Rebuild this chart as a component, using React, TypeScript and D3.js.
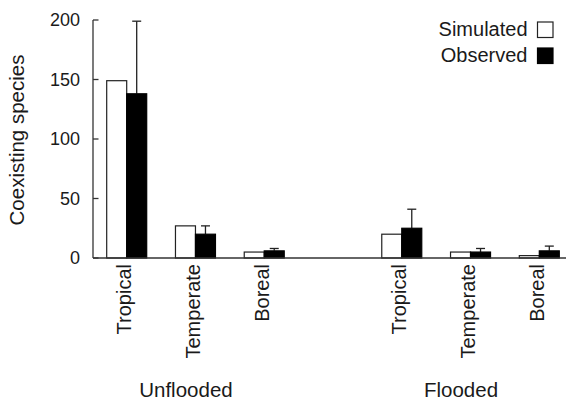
import React from "react";
import * as d3 from "d3";

const categories = ["Tropical", "Temperate", "Boreal"];
const conditions = ["Unflooded", "Flooded"];
const simulated = [149, 27, 5, 20, 5, 2];
const observed = [138, 20, 6, 25, 5, 6];
const observedErr = [61, 7, 2, 16, 3, 4];
const yTicks = [0, 50, 100, 150, 200];
const seriesNames = ["Simulated", "Observed"];

const W = 569;
const H = 401;
const FONT = "'Liberation Sans', Arial, Helvetica, sans-serif";
const TXT = "#1a1a1a";
const AX = "#333";

export default function App() {
  // slots: 3 unflooded, one empty gap, 3 flooded
  const slots = ["U0", "U1", "U2", "gap", "F0", "F1", "F2"];
  const x = d3.scalePoint<string>().domain(slots).range([126.7, 539.3]).padding(0);
  const y = d3.scaleLinear().domain([0, 200]).range([258, 20]);
  const barW = 20;
  const axisX = 93;

  const rows = conditions.flatMap((c, ci) =>
    categories.map((cat, k) => {
      const i = ci * 3 + k;
      const slot = (ci === 0 ? "U" : "F") + k;
      return { cond: c, cat, slot, sim: simulated[i], obs: observed[i], err: observedErr[i] };
    })
  );

  return (
    <svg width={W} height={H} style={{ position: "absolute", left: 0, top: 0 }} fontFamily={FONT}>
      <rect x={0} y={0} width={W} height={H} fill="#fff" />
      {/* y axis */}
      <line x1={axisX} x2={axisX} y1={y(200)} y2={y(0)} stroke={AX} strokeWidth={1.3} />
      {yTicks.map((t) => (
        <g key={t}>
          <line x1={axisX} x2={axisX + 5.5} y1={y(t)} y2={y(t)} stroke={AX} strokeWidth={1.3} />
          <text x={80} y={y(t)} dy="0.36em" textAnchor="end" fontSize={18} fill={TXT}>
            {t}
          </text>
        </g>
      ))}
      {/* y title */}
      <text
        transform={`translate(24, ${(y(0) + y(200)) / 2 + 1}) rotate(-90)`}
        textAnchor="middle"
        fontSize={20.5}
        fill={TXT}
      >
        Coexisting species
      </text>
      {/* bars */}
      {rows.map((r) => {
        const cx = x(r.slot)!;
        const ecx = cx + barW / 2;
        return (
          <g key={r.slot}>
            <rect x={cx - barW} y={y(r.sim)} width={barW} height={y(0) - y(r.sim)} fill="#fff" stroke="#222" strokeWidth={1.2} />
            <line x1={ecx} x2={ecx} y1={y(r.obs)} y2={y(r.obs + r.err)} stroke="#222" strokeWidth={1.3} />
            <line x1={ecx - 4.5} x2={ecx + 4.5} y1={y(r.obs + r.err)} y2={y(r.obs + r.err)} stroke="#222" strokeWidth={1.3} />
            <rect x={cx} y={y(r.obs)} width={barW} height={y(0) - y(r.obs)} fill="#000" stroke="#000" strokeWidth={1.2} />
            <text
              transform={`translate(${cx + 4.5}, 264) rotate(-90)`}
              textAnchor="end"
              fontSize={20}
              fill={TXT}
            >
              {r.cat}
            </text>
          </g>
        );
      })}
      {/* x axis */}
      <line x1={axisX} x2={566} y1={y(0)} y2={y(0)} stroke={AX} strokeWidth={1.3} />
      {/* group labels */}
      {conditions.map((c, ci) => (
        <text key={c} x={x((ci === 0 ? "U" : "F") + 1)! - 9.5} y={397} textAnchor="middle" fontSize={20.5} fill={TXT}>
          {c}
        </text>
      ))}
      {/* legend */}
      {seriesNames.map((s, i) => (
        <g key={s}>
          <text x={527.5} y={35.5 + i * 26.5} textAnchor="end" fontSize={20} fill={TXT}>
            {s}
          </text>
          <rect
            x={537.5}
            y={22 + i * 26}
            width={15.5}
            height={15.5}
            fill={i === 0 ? "#fff" : "#000"}
            stroke={i === 0 ? "#222" : "#000"}
            strokeWidth={1.2}
          />
        </g>
      ))}
    </svg>
  );
}
